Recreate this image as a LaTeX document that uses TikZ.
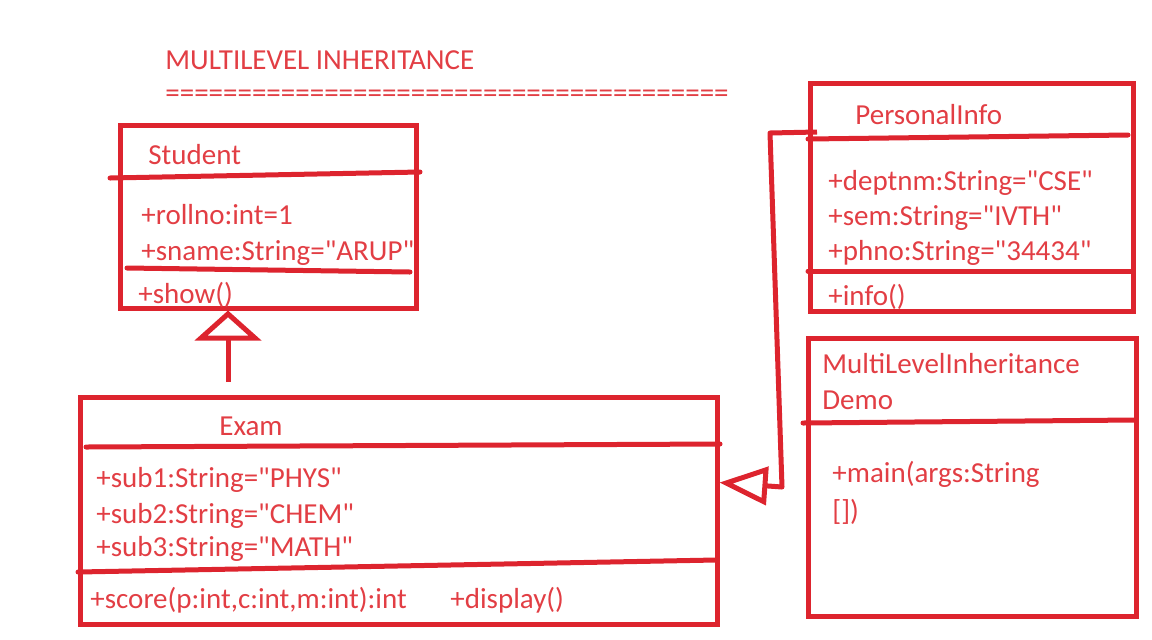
\documentclass[tikz,border=0pt]{standalone}
\usepackage{fontspec}
\newfontfamily\umlfont{Carlito}
\usetikzlibrary{arrows.meta,fit}
\definecolor{umlred}{RGB}{221,36,46}
\definecolor{umltext}{RGB}{226,62,68}
\tikzset{
  classbox/.style={draw=umlred, line width=2.5pt, inner sep=0pt},
  sepline/.style={draw=umlred, line width=2.5pt, line cap=round},
  umltxt/.style={text=umltext, anchor=west, inner sep=0pt,
    font=\umlfont\fontsize{14.5}{17}\selectfont},
  inherit/.style={draw=umlred, line width=2.5pt, line join=round,
    -{Triangle[open, #1]}}
}
\begin{document}
\begin{tikzpicture}[x=0.5pt, y=-0.5pt]
  \useasboundingbox (0,0) rectangle (1152,639);

  % title
  \node[umltxt] (title) at (165,60) {MULTILEVEL INHERITANCE};
  \node[umltxt] (rule) at (165,96) {=======================================};

  % class boxes
  \node[classbox, fit={(120,125) (416,308)}] (student) {};
  \node[classbox, fit={(80,397) (717,624)}] (exam) {};
  \node[classbox, fit={(810,83) (1133,311)}] (pinfo) {};
  \node[classbox, fit={(808,338) (1136,616)}] (demo) {};

  % compartments
  \draw[sepline] (110,178) -- (420,172);
  \draw[sepline] (127,268) -- (410,272);
  \draw[sepline] (86,447) -- (720,444);
  \draw[sepline] (78,572) -- (716,560);
  \draw[sepline] (808,139) -- (1128,135);
  \draw[sepline] (808,271) -- (1133,271);
  \draw[sepline] (803,423) -- (1134,420);

  % Student
  \node[umltxt] (stuname) at (148,155) {Student};
  \node[umltxt] (sturoll) at (141,215) {+rollno:int=1};
  \node[umltxt] (stusname) at (141,253) {+sname:String="ARUP"};
  \node[umltxt] (stushow) at (138,295) {+show()};

  % Exam
  \node[umltxt] (examname) at (219,426) {Exam};
  \node[umltxt] (examsub1) at (96,480) {+sub1:String="PHYS"};
  \node[umltxt] (examsub2) at (96,516) {+sub2:String="CHEM"};
  \node[umltxt] (examsub3) at (96,549) {+sub3:String="MATH"};
  \node[umltxt] (examscore) at (90,600) {+score(p:int,c:int,m:int):int};
  \node[umltxt] (examdisp) at (450,600) {+display()};

  % PersonalInfo
  \node[umltxt] (pinfoname) at (855,115) {PersonalInfo};
  \node[umltxt] (pinfodept) at (828,183) {+deptnm:String="CSE"};
  \node[umltxt] (pinfosem) at (828,218) {+sem:String="IVTH"};
  \node[umltxt] (pinfophno) at (828,253) {+phno:String="34434"};
  \node[umltxt] (pinfoinfo) at (828,297) {+info()};

  % MultiLevelInheritanceDemo
  \node[umltxt] (demoname) at (822,364) {MultiLevelInheritance};
  \node[umltxt] (demoname2) at (822,400) {Demo};
  \node[umltxt] (demomain) at (832,474) {+main(args:String};
  \node[umltxt] (demomain2) at (832,512) {[])};

  % inheritance
  \coordinate (examhook) at (228,382);
  \draw[inherit={length=15pt, width=33pt}] (examhook) -- ([xshift=-20pt]student.south);
  \coordinate (pinfohook) at (817,132);
  \coordinate (bendA) at (770,133);
  \coordinate (bendB) at (782,487);
  \draw[inherit={length=24pt, width=19pt}] (pinfohook) -- (bendA) -- (bendB)
    -- ([yshift=14pt]exam.east);
\end{tikzpicture}
\end{document}
